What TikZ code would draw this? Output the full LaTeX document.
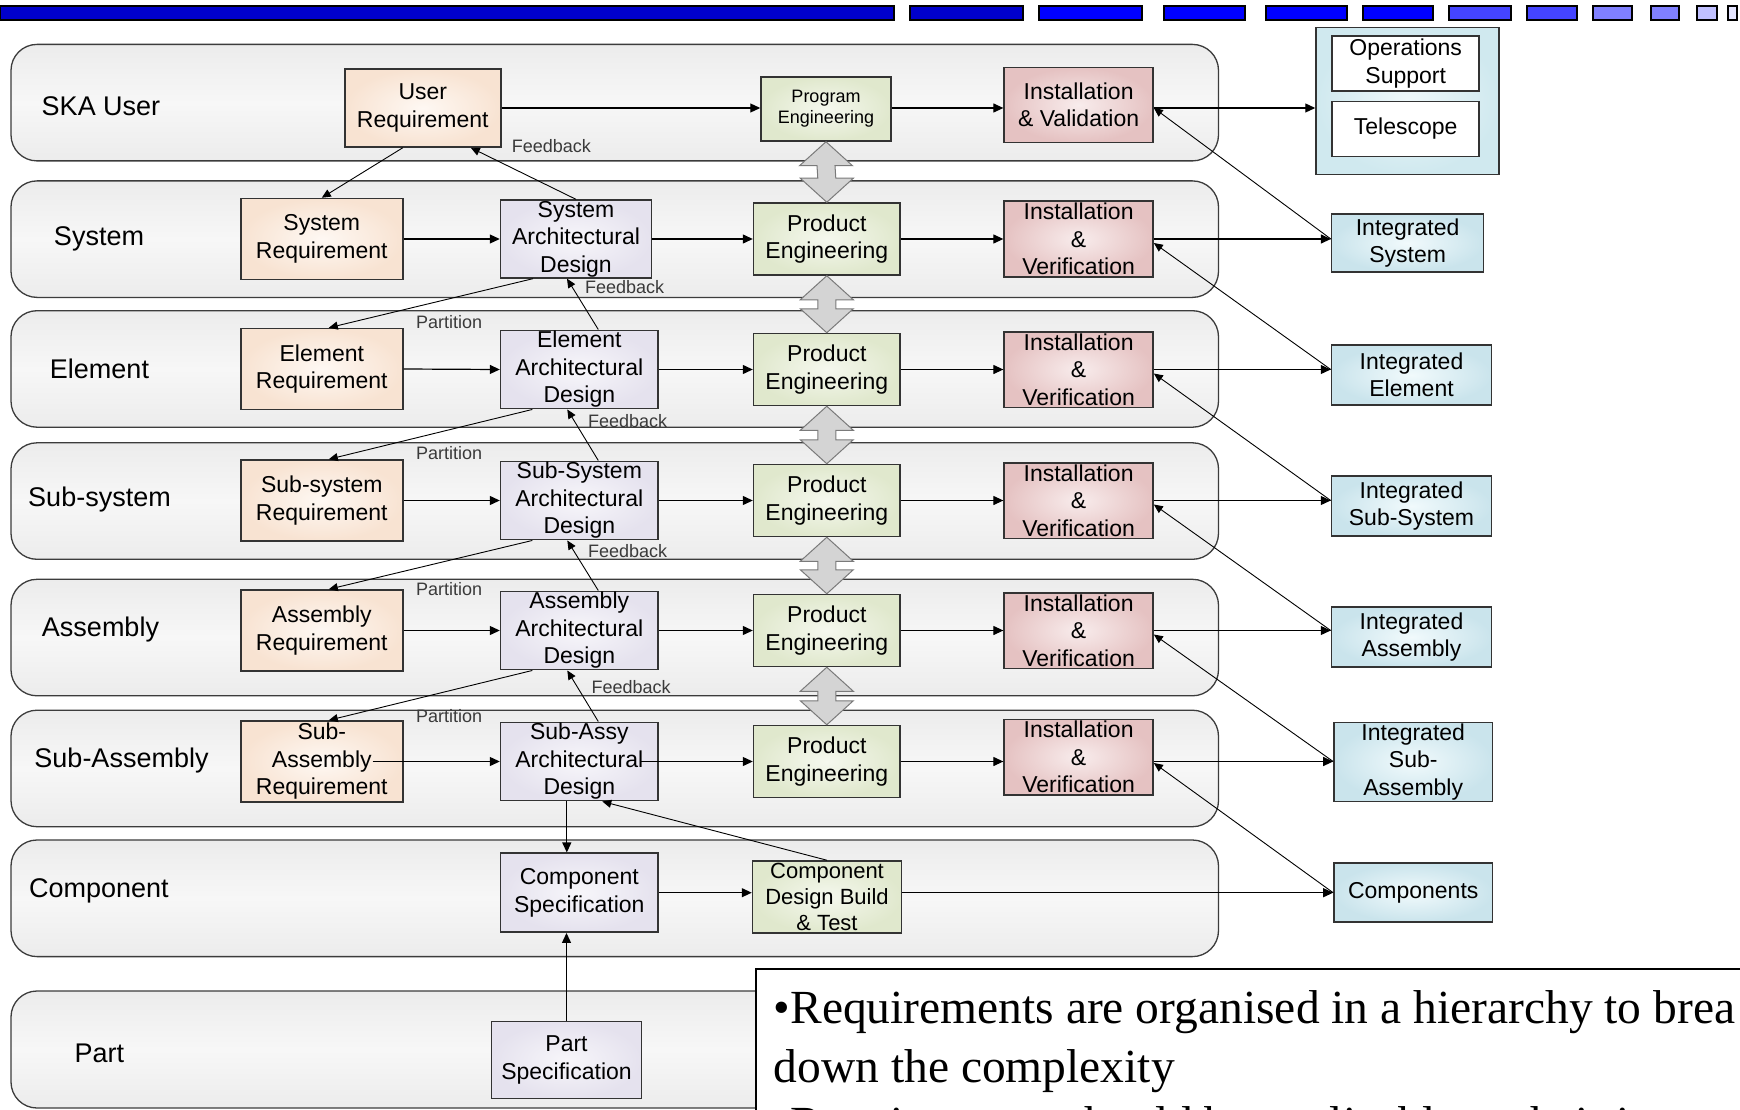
\documentclass[tikz,border=0pt]{standalone}
\usepackage{fontspec}
\setmainfont{Liberation Sans}
\newfontfamily\notefont{Liberation Serif}
\usetikzlibrary{arrows.meta,calc}

% palette
\definecolor{barA}{HTML}{0000CC}
\definecolor{barB}{HTML}{0000FF}
\definecolor{barC}{HTML}{4444FF}
\definecolor{barD}{HTML}{8080FF}
\definecolor{barE}{HTML}{C0C0FF}
\definecolor{barF}{HTML}{E4E4FF}
\definecolor{laneOut}{HTML}{ECECEC}
\definecolor{laneMid}{HTML}{F7F7F7}
\definecolor{laneEdge}{HTML}{3C3C3C}
\definecolor{reqIn}{HTML}{FEF8F3}
\definecolor{reqOut}{HTML}{F8E3D2}
\definecolor{archIn}{HTML}{F7F6FA}
\definecolor{archOut}{HTML}{E5E2EE}
\definecolor{peIn}{HTML}{F5F8EE}
\definecolor{peOut}{HTML}{E0E8CD}
\definecolor{ivIn}{HTML}{F8ECEC}
\definecolor{ivOut}{HTML}{E5C2C2}
\definecolor{intIn}{HTML}{F1FAFC}
\definecolor{intOut}{HTML}{CAE4EC}
\definecolor{opsIn}{HTML}{EEF8FA}
\definecolor{opsOut}{HTML}{D0E9EF}
\definecolor{linkFill}{HTML}{D4D4D4}
\definecolor{linkEdge}{HTML}{7A7A7A}
\definecolor{tagText}{HTML}{3A3A3A}

% double-headed block arrow between two stacked engineering boxes
\newcommand\drawLinkArrow[2]{%
  \filldraw[linkarrow] (#1.south) -- ++(26.5,24) -- ++(-17.5,0)
    -- ($(#2.north)+(9,-24)$) -- ++(17.5,0) -- (#2.north)
    -- ++(-26.5,-24) -- ++(17.5,0) -- ($(#1.south)+(-9,24)$)
    -- ++(-17.5,0) -- cycle;}

\begin{document}
\begin{tikzpicture}[x=1pt,y=-1pt,
  barseg/.style={draw=black,line width=2pt},
  lane/.style={draw=laneEdge,line width=1.3pt,rounded corners=26pt,
    top color=laneOut,bottom color=laneOut,middle color=laneMid},
  lanelabel/.style={font=\fontsize{27}{32}\selectfont,inner sep=0pt},
  box/.style={draw=black!80,line width=1.5pt,inner sep=1pt,align=center,
    font=\fontsize{23}{27.5}\selectfont},
  reqbox/.style={box,inner color=reqIn,outer color=reqOut,
    minimum width=162,minimum height=81},
  archbox/.style={box,inner color=archIn,outer color=archOut,
    minimum width=157.5,minimum height=77},
  pebox/.style={box,inner color=peIn,outer color=peOut,
    minimum width=146.5,minimum height=72},
  ivbox/.style={box,inner color=ivIn,outer color=ivOut,
    minimum width=149,minimum height=75.5},
  intbox/.style={box,inner color=intIn,outer color=intOut,
    minimum width=160,minimum height=60},
  tag/.style={font=\fontsize{18}{21}\selectfont,text=tagText,inner sep=0pt,anchor=west},
  arr/.style={line width=1.2pt,-{Triangle[length=10pt,width=9pt]}},
  darr/.style={line width=0.9pt,-{Triangle[length=9pt,width=8pt]}},
  linkarrow/.style={fill=linkFill,draw=linkEdge,line width=1pt,line join=miter},
  notetext/.style={font=\notefont\fontsize{47.5}{59}\selectfont,inner sep=0pt,anchor=base west}
]
\useasboundingbox (0,0) rectangle (1740,1110);
\clip (0,0) rectangle (1740,1110);
\fill[white] (0,0) rectangle (1740,1110);

% header bar
\foreach \a/\b/\c in {0/894/barA,910/1023/barA,1039/1142/barB,1164/1245/barB,
  1266/1347/barB,1363/1433/barB,1449/1511/barC,1527/1577/barC,1593/1632/barD,
  1651/1679/barD,1697/1717/barE,1728/1737/barF}
  \draw[barseg,fill=\c] (\a,6) rectangle (\b,20);

% swim lanes
\foreach \t/\b in {44.4/160.9,180.9/297.4,310.7/427.2,442.8/559.3,
  579.3/695.8,710.2/826.7,840/956.6,991/1108}
  \draw[lane] (11,\t) rectangle (1218.5,\b);

% lane labels
\node[lanelabel] (lSka)  at (101,106.5) {SKA User};
\node[lanelabel] (lSys)  at (99,238.6)  {System};
\node[lanelabel] (lEl)   at (99.5,368.4) {Element};
\node[lanelabel] (lSub)  at (99.5,499.4) {Sub-system};
\node[lanelabel] (lAsm)  at (100.5,629.2) {Assembly};
\node[lanelabel] (lSasm) at (121.5,760.1) {Sub-Assembly};
\node[lanelabel] (lComp) at (98.8,891)   {Component};
\node[lanelabel] (lPart) at (99.3,1053)  {Part};

% SKA user level
\node[reqbox,minimum width=156,minimum height=78] (ureq) at (422.8,108) {User\\Requirement};
\node[pebox,minimum width=130,minimum height=64,font=\fontsize{18}{21}\selectfont]
  (prog) at (826,109) {Program\\Engineering};
\node[ivbox,minimum height=75] (ivs) at (1078.6,105) {Installation\\\& Validation};
\node[draw=black!80,line width=1.5pt,inner color=opsIn,outer color=opsOut,
  minimum width=183,minimum height=147] (ops) at (1407.5,100.8) {};
\node[box,fill=white,minimum width=147,minimum height=55] (opsup) at (1405.7,63.6) {Operations\\Support};
\node[box,fill=white,minimum width=147,minimum height=55] (tele) at (1405.7,129) {Telescope};

% system level
\node[reqbox] (sreq) at (321.8,239) {System\\Requirement};
\node[archbox,minimum width=151,minimum height=75.5] (sarch) at (576,239) {System\\Architectural\\Design};
\node[pebox] (pe2) at (826.8,239) {Product\\Engineering};
\node[ivbox] (iv2) at (1078.6,239) {Installation\\\&\\Verification};
\node[intbox,minimum width=152,minimum height=58] (isys) at (1407.6,243) {Integrated\\System};

% element level
\node[reqbox] (ereq) at (321.8,369) {Element\\Requirement};
\node[archbox] (earch) at (579.3,369.5) {Element\\Architectural\\Design};
\node[pebox] (pe3) at (826.8,369.5) {Product\\Engineering};
\node[ivbox] (iv3) at (1078.6,369.5) {Installation\\\&\\Verification};
\node[intbox] (iel) at (1411.5,375) {Integrated\\Element};

% sub-system level
\node[reqbox] (ssreq) at (321.8,500.5) {Sub-system\\Requirement};
\node[archbox] (ssarch) at (579.3,500.5) {Sub-System\\Architectural\\Design};
\node[pebox] (pe4) at (826.8,500.5) {Product\\Engineering};
\node[ivbox] (iv4) at (1078.6,500.5) {Installation\\\&\\Verification};
\node[intbox] (issys) at (1411.5,506) {Integrated\\Sub-System};

% assembly level
\node[reqbox] (areq) at (321.8,630.5) {Assembly\\Requirement};
\node[archbox] (aarch) at (579.3,630.5) {Assembly\\Architectural\\Design};
\node[pebox] (pe5) at (826.8,630.5) {Product\\Engineering};
\node[ivbox] (iv5) at (1078.6,630.5) {Installation\\\&\\Verification};
\node[intbox] (iasm) at (1411.5,637) {Integrated\\Assembly};

% sub-assembly level
\node[reqbox] (sareq) at (321.8,761.5) {Sub-\\Assembly\\Requirement};
\node[archbox] (saarch) at (579.3,761.5) {Sub-Assy\\Architectural\\Design};
\node[pebox] (pe6) at (826.8,761.5) {Product\\Engineering};
\node[ivbox] (iv6) at (1078.6,757) {Installation\\\&\\Verification};
\node[intbox,minimum width=158.6,minimum height=79] (isasm) at (1413.2,761.8) {Integrated\\Sub-\\Assembly};

% component level
\node[archbox,minimum height=79] (cs) at (579.3,892.7) {Component\\Specification};
\node[pebox,minimum width=149,font=\fontsize{22}{26}\selectfont] (cdbt) at (827,897) {Component\\Design Build\\\& Test};
\node[intbox,minimum width=158.6,minimum height=59] (comps) at (1413.2,892.7) {Components};

% part level
\node[archbox,minimum width=150,minimum height=76.6] (ps) at (566.5,1060) {Part\\Specification};

% block arrows between the engineering boxes
\drawLinkArrow{prog}{pe2}
\drawLinkArrow{pe2}{pe3}
\drawLinkArrow{pe3}{pe4}
\drawLinkArrow{pe4}{pe5}
\drawLinkArrow{pe5}{pe6}

% SKA user flow
\draw[arr] (ureq.east) -- (ureq.east -| prog.west);
\draw[arr] (prog.east |- ureq.east) -- (ureq.east -| ivs.west);
\draw[arr] (ivs.east |- ureq.east) -- (ureq.east -| ops.west);

% horizontal flows per level
\foreach \r/\a/\p/\v/\i in {sreq/sarch/pe2/iv2/isys,ereq/earch/pe3/iv3/iel,
  ssreq/ssarch/pe4/iv4/issys,areq/aarch/pe5/iv5/iasm}{
  \draw[arr] (\r.east) -- (\a.west);
  \draw[arr] (\a.east) -- (\p.west);
  \draw[arr] (\p.east) -- (\v.west);
  \draw[arr] (\v.east) -- (\v.east -| \i.west);
}
\draw[arr] ([xshift=-31pt]sareq.east) -- (saarch.west);
\draw[arr] ([xshift=-18pt]saarch.east) -- (pe6.west);
\draw[arr] (pe6.east) -- (pe6.east -| iv6.west);
\draw[arr] (iv6.east |- pe6.east) -- (pe6.east -| isasm.west);
\draw[arr] (cs.east) -- (cs.east -| cdbt.west);
\draw[arr] (cdbt.east |- cs.east) -- (cs.east -| comps.west);

% verification returns from the integrated products
\draw[darr] (iv2.east -| isys.west) -- ([yshift=-3pt]ivs.east);
\draw[darr] (iv3.east -| iel.west) -- ([yshift=-4pt]iv2.east);
\draw[darr] (iv4.east -| issys.west) -- ([yshift=-4pt]iv3.east);
\draw[darr] (iv5.east -| iasm.west) -- ([yshift=-4pt]iv4.east);
\draw[darr] (pe6.east -| isasm.west) -- ([yshift=-4pt]iv5.east);
\draw[darr] (cs.east -| comps.west) -- ([yshift=-6pt]iv6.east);

% user to system
\draw[darr] ([xshift=-20pt]ureq.south) -- (sreq.north);
\draw[darr] (sarch.north) -- ([xshift=48pt]ureq.south);
\node[tag] (fb1) at (511.6,146.5) {Feedback};

% partition and feedback between levels
\draw[darr] ([xshift=-43pt]sarch.south) -- ([xshift=7pt]ereq.north);
\draw[darr] ([xshift=19pt]earch.north) -- ([xshift=-9pt]sarch.south);
\node[tag] (fb2) at (584.8,287.4) {Feedback};
\node[tag] (pt2) at (416,321.8) {Partition};

\draw[darr] ([xshift=-47pt]earch.south) -- ([xshift=7pt]ssreq.north);
\draw[darr] ([xshift=19pt]ssarch.north) -- ([xshift=-12pt]earch.south);
\node[tag] (fb3) at (588,420.6) {Feedback};
\node[tag] (pt3) at (416,452.8) {Partition};

\draw[darr] ([xshift=-47pt]ssarch.south) -- ([xshift=7pt]areq.north);
\draw[darr] ([xshift=19pt]aarch.north) -- ([xshift=-12pt]ssarch.south);
\node[tag] (fb4) at (588,551.5) {Feedback};
\node[tag] (pt4) at (416,589) {Partition};

\draw[darr] ([xshift=-47pt]aarch.south) -- ([xshift=7pt]sareq.north);
\draw[darr] ([xshift=19pt]saarch.north) -- ([xshift=-12pt]aarch.south);
\node[tag] (fb5) at (591.5,687.5) {Feedback};
\node[tag] (pt5) at (416,715.8) {Partition};

% down to components and parts
\draw[arr] ([xshift=-12.5pt]saarch.south) -- ([xshift=-12.5pt]saarch.south |- cs.north);
\draw[arr] (ps.north) -- (ps.north |- cs.south);
\draw[darr] (cdbt.north) -- ([xshift=23pt]saarch.south);

% notes panel, running past the page edge
\node[draw=black,line width=2pt,fill=white,anchor=north west,inner sep=0pt,
  minimum width=1100,minimum height=300] (note) at (754.6,967.6) {};
\node[notetext] (n1) at (773.5,1023) {•Requirements are organised in a hierarchy to brea};
\node[notetext] (n2) at (773.5,1082) {down the complexity};
\node[notetext] (n3) at (773.5,1139) {•Requirements should be applicable to their i};
\end{tikzpicture}
\end{document}
